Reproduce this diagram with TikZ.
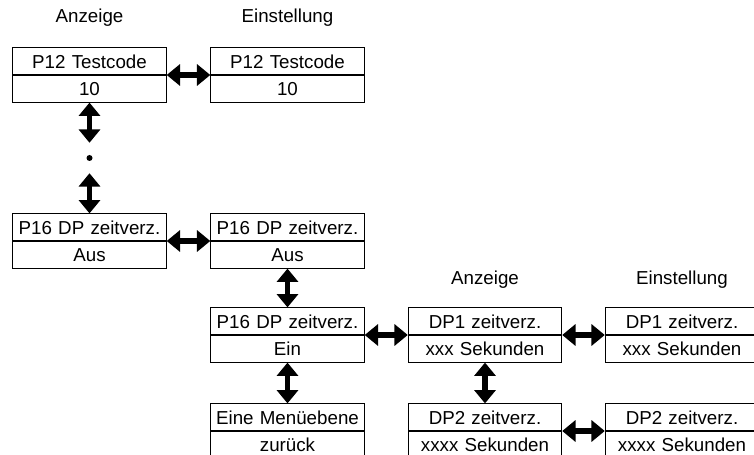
\documentclass[tikz,border=0pt]{standalone}
\usepackage{fontspec}
\setmainfont{Liberation Sans}
\usetikzlibrary{arrows.meta,shapes.multipart}

\newcommand{\zl}{\rule[-5.1pt]{0pt}{22.2pt}}

\tikzset{
	box/.style={draw,line width=0.9pt,rectangle split,rectangle split parts=2,
		text width=4.6cm,align=center,inner xsep=0pt,inner ysep=0pt},
	dbl/.style={line width=0.17cm,{Triangle[length=0.4cm,width=0.63cm]}-{Triangle[length=0.4cm,width=0.63cm]}},
	head/.style={inner sep=0pt}
}

\begin{document}
\begin{tikzpicture}[x=0.03cm,y=-0.03cm,font=\fontsize{16}{19}\selectfont]
	\useasboundingbox (0,0) rectangle (754,455);
	\clip (0,0) rectangle (754,455);
	% Kopfzeilen
	\node[head] (hA) at (89.5,18) {Anzeige};
	\node[head] (hE) at (287.5,18) {Einstellung};
	\node[head] (hA2) at (485,280) {Anzeige};
	\node[head] (hE2) at (682,280) {Einstellung};
	% Menuepunkte
	\node[box] (t1) at (89.5,75) {\zl P12 Testcode\nodepart{two}\zl 10};
	\node[box] (t2) at (287.5,75) {\zl P12 Testcode\nodepart{two}\zl 10};
	\node[fill,circle,inner sep=0pt,minimum size=0.18cm] (dot) at (89.5,158) {};
	\node[box] (d1) at (89.5,241) {\zl P16 DP zeitverz.\nodepart{two}\zl Aus};
	\node[box] (d2) at (287.5,241) {\zl P16 DP zeitverz.\nodepart{two}\zl Aus};
	\node[box] (e2) at (287.5,335) {\zl P16 DP zeitverz.\nodepart{two}\zl Ein};
	\node[box] (m2) at (287.5,431) {\zl Eine Men\"uebene\nodepart{two}\zl zur\"uck};
	\node[box] (s3) at (485,335) {\zl DP1 zeitverz.\nodepart{two}\zl xxx Sekunden};
	\node[box] (s4) at (682,335) {\zl DP1 zeitverz.\nodepart{two}\zl xxx Sekunden};
	\node[box] (u3) at (485,431) {\zl DP2 zeitverz.\nodepart{two}\zl xxxx Sekunden};
	\node[box] (u4) at (682,431) {\zl DP2 zeitverz.\nodepart{two}\zl xxxx Sekunden};
	% Pfeile
	\draw[dbl] (t1.east) -- (t2.west);
	\draw[dbl,shorten >=0.36cm] (t1.south) -- (dot);
	\draw[dbl,shorten <=0.36cm] (dot) -- (d1.north);
	\draw[dbl] (d1.east) -- (d2.west);
	\draw[dbl] (d2.south) -- (e2.north);
	\draw[dbl] (e2.east) -- (s3.west);
	\draw[dbl] (e2.south) -- (m2.north);
	\draw[dbl] (s3.east) -- (s4.west);
	\draw[dbl] (s3.south) -- (u3.north);
	\draw[dbl] (u3.east) -- (u4.west);
\end{tikzpicture}
\end{document}
